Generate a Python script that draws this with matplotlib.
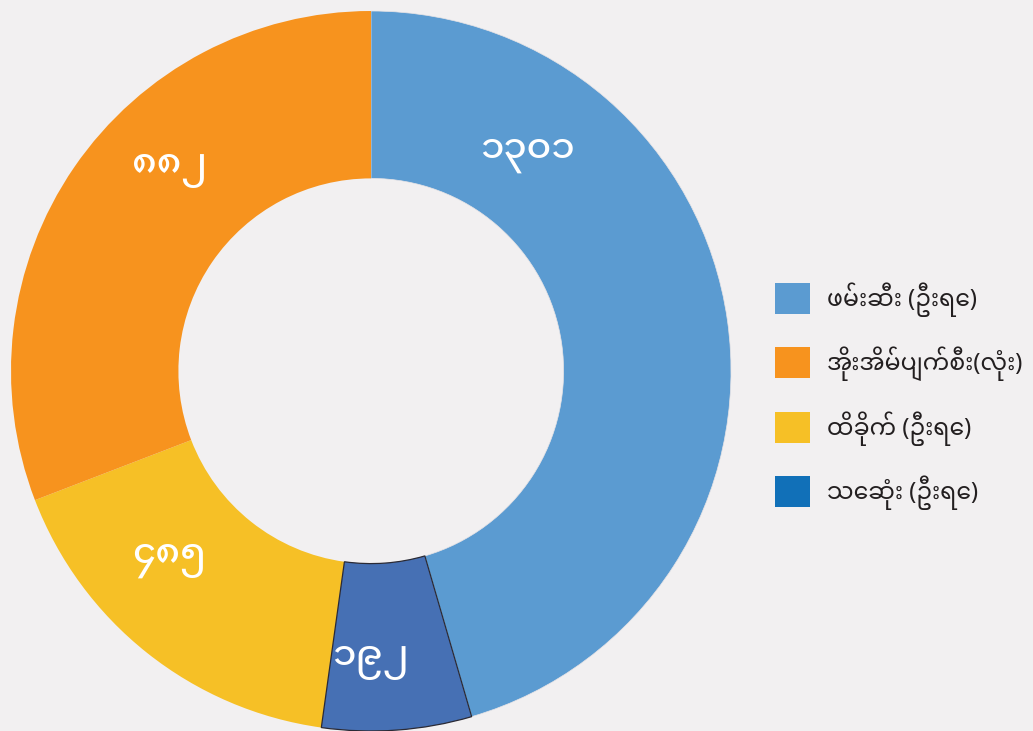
import matplotlib
matplotlib.use("Agg")
import matplotlib.pyplot as plt
import numpy as np
from matplotlib.patches import Rectangle

# Data
categories = ["ဖမ်းဆီး (ဦးရေ)", "သေဆုံး (ဦးရေ)", "ထိခိုက် (ဦးရေ)", "အိုးအိမ်ပျက်စီး(လုံး)"]
values = [1301, 192, 485, 882]
value_labels = ["၁၃၀၁", "၁၉၂", "၄၈၅", "၈၈၂"]
slice_colors = ["#5b9bd1", "#4670b4", "#f6c026", "#f7931e"]
legend_order = [0, 3, 2, 1]
legend_colors = ["#5b9bd1", "#f7931e", "#f6c026", "#1170b8"]

BG = "#f2f0f1"
FONT = ["Noto Sans Myanmar", "Myanmar Sans Pro", "DejaVu Sans"]
NUMFONT = ["Noto Sans Myanmar UI", "Noto Sans Myanmar", "DejaVu Sans"]

W, H = 1033, 731
fig = plt.figure(figsize=(W / 100, H / 100), dpi=100, facecolor=BG)
ax = fig.add_axes([11 / W, 0 / H, 720 / W, 720 / H])
ax.set_facecolor(BG)

wedges, _ = ax.pie(values, colors=slice_colors, startangle=90, counterclock=False,
                   radius=1.0, wedgeprops=dict(width=0.465, linewidth=0.5, edgecolor="#e8e4e6"))
wedges[2].set_edgecolor("none")
wedges[3].set_edgecolor("none")
wedges[1].set_edgecolor("#2a2a35")
wedges[1].set_linewidth(0.9)
wedges[1].set_zorder(3)

# label placement relative to each wedge's middle angle (layout only)
label_offsets = [45.0, -4.3, -7.4, -9.3]
label_radii = [0.722, 0.831, 0.783, 0.774]
for w, lab, off, r in zip(wedges, value_labels, label_offsets, label_radii):
    mid = (w.theta1 + w.theta2) / 2 + off
    x = r * np.cos(np.radians(mid))
    y = r * np.sin(np.radians(mid))
    ax.text(x, y, lab, ha="center", va="baseline", color="white", fontsize=27,
            family=NUMFONT, weight="medium", zorder=5)

ax.set_xlim(-1, 1)
ax.set_ylim(-1, 1)
ax.set_aspect("equal")
ax.axis("off")

# legend (drawn manually for exact spacing)
row0, row_step = 298.5, 64.3
for k, i in enumerate(legend_order):
    yc = row0 + k * row_step
    fig.add_artist(Rectangle((775 / W, 1 - (yc + 15.5) / H), 35 / W, 31 / H,
                             transform=fig.transFigure, facecolor=legend_colors[k],
                             edgecolor="none"))
    fig.text(827 / W, 1 - (yc + 7.5) / H, categories[i], ha="left", va="baseline",
             fontsize=17, family=FONT, color="#231f20")

fig.savefig("out.png", dpi=100, facecolor=BG)
